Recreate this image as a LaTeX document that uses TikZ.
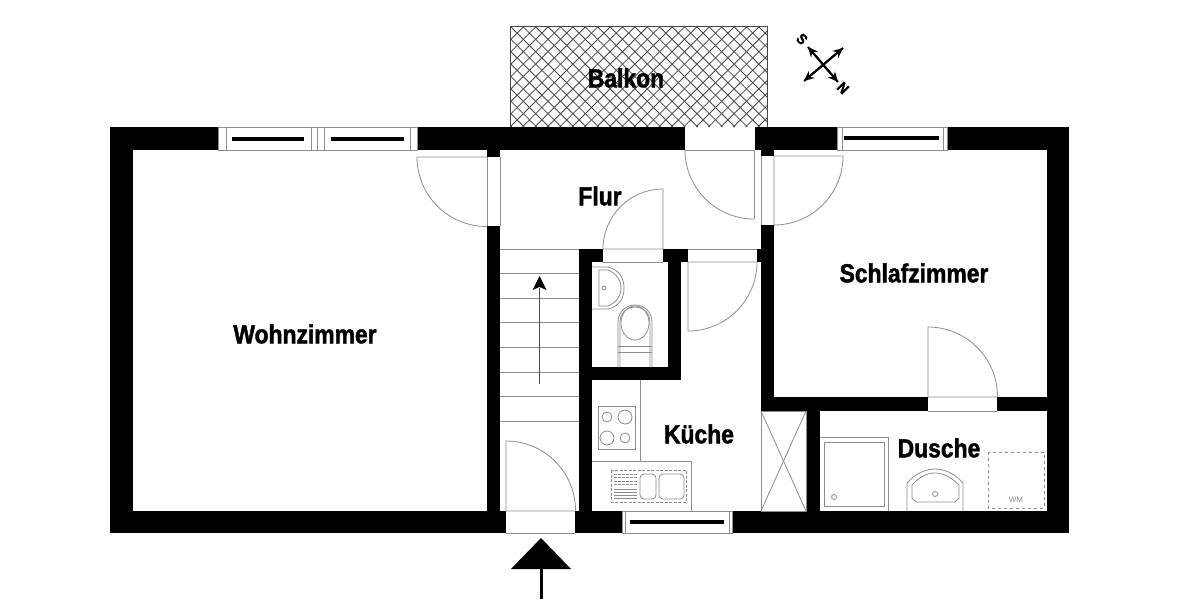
\documentclass[tikz,border=0pt]{standalone}
\usepackage{fontspec}
\setmainfont{Liberation Sans}
\newfontfamily\roomfont[FakeStretch=0.88,FakeBold=1.6]{Liberation Sans}
\definecolor{myline}{RGB}{140,140,140}
\definecolor{myhatch}{RGB}{70,70,70}
\usetikzlibrary{arrows.meta}
\tikzstyle{wall}=[fill=black,draw=none]
\tikzstyle{plan}=[draw=myline,line width=0.8pt]
\tikzstyle{glass}=[draw=black,line width=3.2pt]
\tikzstyle{room}=[font=\roomfont\fontsize{26}{26}\selectfont\bfseries,inner sep=0pt]
\tikzstyle{compassletter}=[font=\roomfont\fontsize{15}{15}\selectfont\bfseries,rotate=-45,inner sep=0pt]
\tikzstyle{pointer}=[draw=black,line width=2pt,-{Stealth[length=10pt,width=9pt]}]
\begin{document}
\begin{tikzpicture}[x=1pt,y=-1pt]
\useasboundingbox (0,0) rectangle (1200,600);
% balcony
\begin{scope}
\clip (510,26) rectangle (767,127);
\foreach \h in {386,398.4,...,780} {
  \draw[myhatch,line width=0.8pt] (\h,26) -- (\h+101,127);
  \draw[myhatch,line width=0.8pt] (\h,127) -- (\h+101,26);
}
\end{scope}
\draw[myhatch,line width=1pt] (510,127) -- (510,26) -- (767,26) -- (767,127);
% outer walls
\fill[wall] (110,127) rectangle (218,150);
\fill[wall] (417,127) rectangle (685,150);
\fill[wall] (755,127) rectangle (837,150);
\fill[wall] (947,127) rectangle (1069,150);
\fill[wall] (110,127) rectangle (133,533);
\fill[wall] (1047,127) rectangle (1069,533);
\fill[wall] (110,511) rectangle (506,533);
\fill[wall] (575,511) rectangle (622,533);
\fill[wall] (732,511) rectangle (1069,533);
% inner walls
\fill[wall] (487,150) rectangle (500,157);
\fill[wall] (487,226) rectangle (500,511);
\fill[wall] (761,150) rectangle (774,156);
\fill[wall] (761,225) rectangle (774,411);
\fill[wall] (579,249) rectangle (603,262);
\fill[wall] (663,249) rectangle (688,262);
\fill[wall] (757,249) rectangle (761,262);
\fill[wall] (579,262) rectangle (592,511);
\fill[wall] (668,262) rectangle (681,380);
\fill[wall] (592,367) rectangle (668,380);
\fill[wall] (774,397) rectangle (928,411);
\fill[wall] (997,397) rectangle (1047,411);
\fill[wall] (807,411) rectangle (820,511);
% windows
\draw[plan] (218,127) rectangle (417,150);
\foreach \x in {226,311,317,324,410} {
  \draw[plan] (\x,127) -- (\x,150);
}
\draw[glass] (232,139) -- (304,139);
\draw[glass] (331,139) -- (404,139);
\draw[plan] (837,127) rectangle (947,150);
\draw[plan] (842,127) -- (842,150);
\draw[plan] (943,127) -- (943,150);
\draw[glass] (844,138) -- (939,138);
\draw[plan] (622,511) rectangle (732,533);
\draw[plan] (625,511) -- (625,533);
\draw[plan] (729,511) -- (729,533);
\draw[glass] (630,522) -- (724,522);
% doors
\draw[plan] (487,157) -- (487,226);
\draw[plan] (500,157) -- (500,226);
\draw[plan] (487,157) -- (417,157) arc[start angle=180,end angle=270,radius=69.5pt];
\draw[plan] (685,150) -- (754,150) -- (754,219);
\draw[plan] (685,150) arc[start angle=180,end angle=270,radius=69pt];
\draw[plan] (761,156) -- (761,225);
\draw[plan] (774,225) -- (774,156) -- (843,156) arc[start angle=0,end angle=-90,radius=69pt];
\draw[plan] (603,249) -- (663,249) -- (663,189) arc[start angle=90,end angle=180,radius=60pt];
\draw[plan] (603,262) -- (663,262);
\draw[plan] (688,249) -- (757,249);
\draw[plan] (757,262) -- (688,262) -- (688,331) arc[start angle=270,end angle=360,radius=69pt];
\draw[plan] (506,533) -- (575,533);
\draw[plan] (575,511) -- (506,511) -- (506,441) arc[start angle=90,end angle=0,radius=69.5pt];
\draw[plan] (997,397) -- (928,397) -- (928,327) arc[start angle=90,end angle=0,radius=69.5pt];
\draw[plan] (928,411) -- (997,411);
% stairs
\foreach \y in {249,273.6,...,425} {
  \draw[plan] (500,\y) -- (579,\y);
}
\draw[black!70,line width=0.7pt] (539.5,384) -- (539.5,288);
\fill[black] (539.5,276) -- (546.5,290) -- (539.5,287) -- (532.5,290) -- cycle;
% washroom
\draw[plan] (592,267) -- (608,267) .. controls (620,270) and (624,279) .. (624,288) .. controls (624,298) and (620,306) .. (608,309) -- (592,309);
\draw[plan] (599,270) -- (608,270) .. controls (616,273) and (621,280) .. (621,288) .. controls (621,296) and (616,303) .. (608,306) -- (599,306) -- cycle;
\draw[plan] (604,288) circle[radius=2pt];
\draw[plan] (618,367) -- (618,322) .. controls (618,312) and (626,305) .. (635,305) .. controls (644,305) and (652,312) .. (652,322) -- (652,367);
\draw[plan] (620,367) -- (620,322) .. controls (620,313) and (627,307) .. (635,307) .. controls (643,307) and (650,313) .. (650,322) -- (650,367);
\draw[plan] (635,323) ellipse[x radius=14pt,y radius=17pt];
\draw[plan] (618,346) -- (652,346);
\draw[plan] (618,352) -- (652,352);
% kitchen
\draw[plan] (640,380) -- (640,461);
\draw[plan] (592,461) -- (691,461) -- (691,511);
\draw[plan] (598,406) rectangle (635,449);
\draw[plan] (607,417) circle[radius=5pt];
\draw[plan] (625,417) circle[radius=7pt];
\draw[plan] (607,438) circle[radius=7pt];
\draw[plan] (625,438) circle[radius=5pt];
\draw[plan,dash pattern=on 3pt off 1.5pt] (611,470) rectangle (686,502);
\foreach \y in {474,477.5,...,487} {
  \draw[plan,dash pattern=on 3pt off 1pt] (614,\y) -- (637,\y);
}
\foreach \y in {489,492,...,499} {
  \draw[plan] (614,\y) -- (637,\y);
}
\draw[plan,rounded corners=4pt] (640,474) rectangle (656,499);
\draw[plan,rounded corners=4pt] (659,474) rectangle (684,499);
% shaft
\draw[plan] (761,411) rectangle (806,511);
\draw[plan] (761,411) -- (806,511);
\draw[plan] (806,411) -- (761,511);
% shower room
\draw[plan] (820,437) -- (888,437) -- (888,511);
\draw[plan] (824,442) rectangle (884,506);
\draw[plan] (834,497) circle[radius=2.5pt];
\draw[plan] (907,511) -- (907,483) .. controls (915,474) and (925,469) .. (935,469) .. controls (945,469) and (955,474) .. (963,483) -- (963,511);
\draw[plan] (912,498) -- (912,485) .. controls (918,478) and (926,473) .. (935,473) .. controls (944,473) and (952,478) .. (959,485) -- (959,498) -- (955,502) -- (916,502) -- cycle;
\draw[plan] (935,494) circle[radius=2.5pt];
\draw[plan,dashed] (988,452) rectangle (1044,508);
\node[text=myline,font=\fontsize{8}{8}\selectfont,inner sep=0pt] (wm) at (1016,500) {WM};
% compass
\coordinate (tipnw) at (808,47);
\coordinate (tipne) at (843,48);
\coordinate (tipsw) at (804,81);
\coordinate (tipse) at (838,82);
\draw[pointer] (tipse) -- (tipnw);
\draw[pointer] (tipnw) -- (tipse);
\draw[pointer] (tipsw) -- (tipne);
\draw[pointer] (tipne) -- (tipsw);
\node[compassletter] (south) at (802,39) {S};
\node[compassletter] (north) at (843,88) {N};
% entrance
\fill[black] (541,538) -- (571,569) -- (511,569) -- cycle;
\draw[black,line width=3pt] (541,569) -- (541,599);
% labels
\node[room] (balkon) at (626,78) {Balkon};
\node[room] (flur) at (600,196) {Flur};
\node[room] (wohnzimmer) at (305,334) {Wohnzimmer};
\node[room] (schlafzimmer) at (914,273) {Schlafzimmer};
\node[room] (kueche) at (699,434) {Küche};
\node[room] (dusche) at (939,448) {Dusche};
\end{tikzpicture}
\end{document}
